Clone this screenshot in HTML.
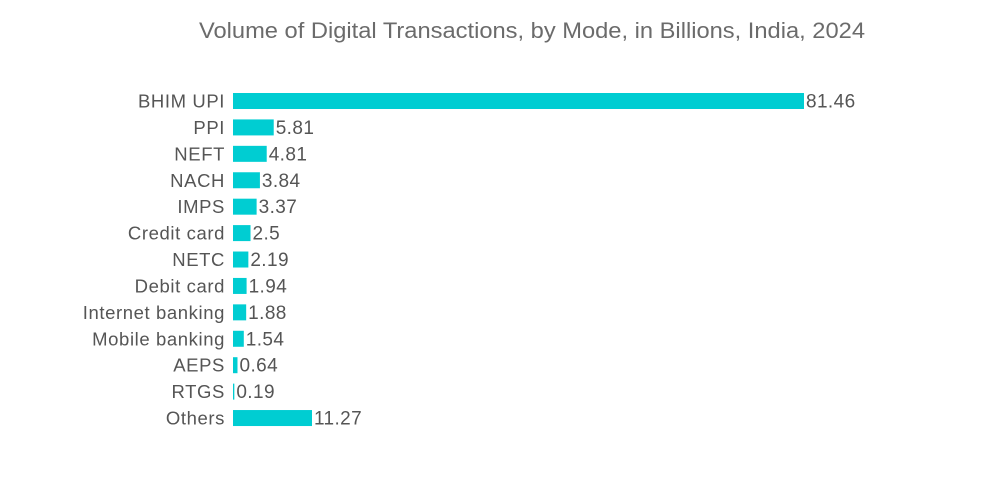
<!DOCTYPE html>
<html><head><meta charset="utf-8"><style>
html,body{margin:0;padding:0;background:#fff;width:1000px;height:504px;overflow:hidden}
text{font-family:"Liberation Sans",sans-serif}
</style></head><body>
<svg id="chart" width="1000" height="504">
<text x="532" y="38" text-anchor="middle" font-size="22" textLength="666" lengthAdjust="spacingAndGlyphs" fill="#6b6b6b">Volume of Digital Transactions, by Mode, in Billions, India, 2024</text>
<g id="bars"></g>
</svg>
<script>
const categories=["BHIM UPI","PPI","NEFT","NACH","IMPS","Credit card","NETC","Debit card","Internet banking","Mobile banking","AEPS","RTGS","Others"];
const values=[81.46,5.81,4.81,3.84,3.37,2.5,2.19,1.94,1.88,1.54,0.64,0.19,11.27];
const labels=["81.46","5.81","4.81","3.84","3.37","2.5","2.19","1.94","1.88","1.54","0.64","0.19","11.27"];
const x0=233,scale=571/81.46,y0=101,step=26.42,bh=16;
const xs=v=>v*scale, ys=i=>y0+i*step;
const g=document.getElementById('bars');const ns='http://www.w3.org/2000/svg';
categories.forEach((c,i)=>{
 const y=ys(i);
 const t=document.createElementNS(ns,'text');
 
 
 t.setAttribute('x',225);t.setAttribute('y',y+6.5);t.setAttribute('text-anchor','end');t.setAttribute('font-size','18.5');t.setAttribute('letter-spacing','0.6');t.setAttribute('fill','#555');t.textContent=c;g.appendChild(t);
 const r=document.createElementNS(ns,'rect');
 
 
 r.setAttribute('x',x0);r.setAttribute('y',y-bh/2);r.setAttribute('width',Math.max(xs(values[i]),1));r.setAttribute('height',bh);r.setAttribute('fill','#00cdd2');g.appendChild(r);
 const v=document.createElementNS(ns,'text');
 
 
 v.setAttribute('x',x0+Math.max(xs(values[i]),1)+2);v.setAttribute('y',y+6.5);v.setAttribute('font-size','19');v.setAttribute('letter-spacing','0.4');v.setAttribute('fill','#555');v.textContent=labels[i];g.appendChild(v);
});
</script>
</body></html>
